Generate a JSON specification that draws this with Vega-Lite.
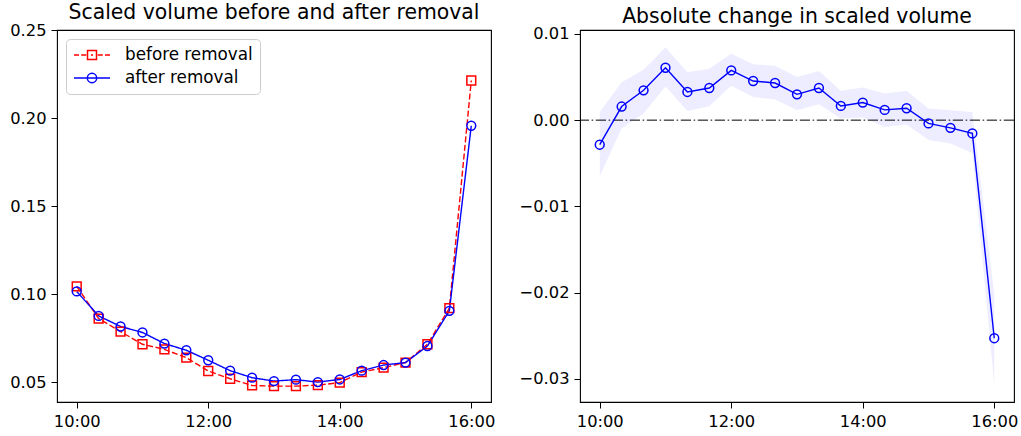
{
  "$schema": "https://vega.github.io/schema/vega-lite/v6.json",
  "config": {
    "font": "DejaVu Sans",
    "view": {"stroke": "black", "strokeWidth": 1.1},
    "axis": {"domain": false, "grid": false, "tickColor": "black", "tickSize": 6, "tickWidth": 1, "labelFontSize": 16.3, "labelColor": "black", "title": null, "labelPadding": 5},
    "title": {"fontSize": 20.4, "fontWeight": "normal", "offset": -1, "color": "black", "frame": "group", "baseline": "alphabetic"},
    "concat": {"spacing": 22}
  },
  "padding": {"left": 9, "top": 2, "right": 6, "bottom": 8},
  "datasets": {
    "volume": [
      {"time": "2020-01-01T10:00", "series": "before removal", "value": 0.1044},
      {"time": "2020-01-01T10:20", "series": "before removal", "value": 0.0861},
      {"time": "2020-01-01T10:40", "series": "before removal", "value": 0.0787},
      {"time": "2020-01-01T11:00", "series": "before removal", "value": 0.0715},
      {"time": "2020-01-01T11:20", "series": "before removal", "value": 0.0686},
      {"time": "2020-01-01T11:40", "series": "before removal", "value": 0.0639},
      {"time": "2020-01-01T12:00", "series": "before removal", "value": 0.0563},
      {"time": "2020-01-01T12:20", "series": "before removal", "value": 0.0519},
      {"time": "2020-01-01T12:40", "series": "before removal", "value": 0.0481},
      {"time": "2020-01-01T13:00", "series": "before removal", "value": 0.0477},
      {"time": "2020-01-01T13:20", "series": "before removal", "value": 0.0477},
      {"time": "2020-01-01T13:40", "series": "before removal", "value": 0.0483},
      {"time": "2020-01-01T14:00", "series": "before removal", "value": 0.0497},
      {"time": "2020-01-01T14:20", "series": "before removal", "value": 0.0557},
      {"time": "2020-01-01T14:40", "series": "before removal", "value": 0.0582},
      {"time": "2020-01-01T15:00", "series": "before removal", "value": 0.0611},
      {"time": "2020-01-01T15:20", "series": "before removal", "value": 0.0715},
      {"time": "2020-01-01T15:40", "series": "before removal", "value": 0.0920},
      {"time": "2020-01-01T16:00", "series": "before removal", "value": 0.2213},
      {"time": "2020-01-01T10:00", "series": "after removal", "value": 0.1015},
      {"time": "2020-01-01T10:20", "series": "after removal", "value": 0.0876},
      {"time": "2020-01-01T10:40", "series": "after removal", "value": 0.0816},
      {"time": "2020-01-01T11:00", "series": "after removal", "value": 0.0782},
      {"time": "2020-01-01T11:20", "series": "after removal", "value": 0.0719},
      {"time": "2020-01-01T11:40", "series": "after removal", "value": 0.0681},
      {"time": "2020-01-01T12:00", "series": "after removal", "value": 0.0624},
      {"time": "2020-01-01T12:20", "series": "after removal", "value": 0.0565},
      {"time": "2020-01-01T12:40", "series": "after removal", "value": 0.0525},
      {"time": "2020-01-01T13:00", "series": "after removal", "value": 0.0506},
      {"time": "2020-01-01T13:20", "series": "after removal", "value": 0.0514},
      {"time": "2020-01-01T13:40", "series": "after removal", "value": 0.0500},
      {"time": "2020-01-01T14:00", "series": "after removal", "value": 0.0515},
      {"time": "2020-01-01T14:20", "series": "after removal", "value": 0.0565},
      {"time": "2020-01-01T14:40", "series": "after removal", "value": 0.0597},
      {"time": "2020-01-01T15:00", "series": "after removal", "value": 0.0611},
      {"time": "2020-01-01T15:20", "series": "after removal", "value": 0.0705},
      {"time": "2020-01-01T15:40", "series": "after removal", "value": 0.0905},
      {"time": "2020-01-01T16:00", "series": "after removal", "value": 0.1956}
    ],
    "change": [
      {"time": "2020-01-01T10:00", "change": -0.00285, "lo": -0.0065, "hi": 0.00096},
      {"time": "2020-01-01T10:20", "change": 0.00158, "lo": -0.00096, "hi": 0.0044},
      {"time": "2020-01-01T10:40", "change": 0.00346, "lo": 0.00077, "hi": 0.00585},
      {"time": "2020-01-01T11:00", "change": 0.00608, "lo": 0.0039, "hi": 0.00846},
      {"time": "2020-01-01T11:20", "change": 0.00327, "lo": 0.00107, "hi": 0.00557},
      {"time": "2020-01-01T11:40", "change": 0.00373, "lo": 0.0016, "hi": 0.00596},
      {"time": "2020-01-01T12:00", "change": 0.00577, "lo": 0.004, "hi": 0.0077},
      {"time": "2020-01-01T12:20", "change": 0.00454, "lo": 0.0027, "hi": 0.0065},
      {"time": "2020-01-01T12:40", "change": 0.00431, "lo": 0.0024, "hi": 0.0063},
      {"time": "2020-01-01T13:00", "change": 0.0030, "lo": 0.00115, "hi": 0.005},
      {"time": "2020-01-01T13:20", "change": 0.00373, "lo": 0.00185, "hi": 0.0057},
      {"time": "2020-01-01T13:40", "change": 0.00165, "lo": 0.0002, "hi": 0.0034},
      {"time": "2020-01-01T14:00", "change": 0.00204, "lo": 0.0003, "hi": 0.0038},
      {"time": "2020-01-01T14:20", "change": 0.00119, "lo": -0.0008, "hi": 0.0031},
      {"time": "2020-01-01T14:40", "change": 0.00138, "lo": -0.0005, "hi": 0.0034},
      {"time": "2020-01-01T15:00", "change": -0.00038, "lo": -0.0023, "hi": 0.00135},
      {"time": "2020-01-01T15:20", "change": -0.00089, "lo": -0.0027, "hi": 0.00115},
      {"time": "2020-01-01T15:40", "change": -0.00154, "lo": -0.0038, "hi": 0.00096},
      {"time": "2020-01-01T16:00", "change": -0.0253, "lo": -0.0307, "hi": -0.0202}
    ]
  },
  "hconcat": [
    {
      "width": 434,
      "height": 372,
      "title": "Scaled volume before and after removal",
      "data": {"name": "volume"},
      "encoding": {
        "x": {
          "field": "time", "type": "temporal",
          "scale": {"domain": [{"year": 2020, "month": 1, "date": 1, "hours": 9, "minutes": 42}, {"year": 2020, "month": 1, "date": 1, "hours": 16, "minutes": 18}]},
          "axis": {"values": [{"year": 2020, "month": 1, "date": 1, "hours": 10}, {"year": 2020, "month": 1, "date": 1, "hours": 12}, {"year": 2020, "month": 1, "date": 1, "hours": 14}, {"year": 2020, "month": 1, "date": 1, "hours": 16}], "format": "%H:%M", "title": null}
        },
        "y": {
          "field": "value", "type": "quantitative",
          "scale": {"domain": [0.0387, 0.25], "nice": false, "zero": false},
          "axis": {"values": [0.05, 0.1, 0.15, 0.2, 0.25], "format": ".2f", "title": null}
        }
      },
      "resolve": {"scale": {"shape": "independent", "color": "independent"}},
      "layer": [
        {
          "mark": {"type": "line", "strokeWidth": 1.4},
          "encoding": {
            "color": {"field": "series", "type": "nominal", "scale": {"domain": ["before removal", "after removal"], "range": ["red", "blue"]}, "legend": null},
            "strokeDash": {"field": "series", "type": "nominal", "scale": {"domain": ["before removal", "after removal"], "range": [[6, 2.6], [1, 0]]}, "legend": null}
          }
        },
        {
          "mark": {"type": "point", "filled": false, "strokeWidth": 1.5, "size": 78, "opacity": 1},
          "encoding": {
            "color": {"field": "series", "type": "nominal", "scale": {"domain": ["before removal", "after removal"], "range": ["red", "blue"]}, "legend": null},
            "shape": {"field": "series", "type": "nominal", "scale": {"domain": ["before removal", "after removal"], "range": ["square", "circle"]}, "legend": null}
          }
        },
        {
          "transform": [{"filter": "false"}],
          "mark": {"type": "point", "filled": false, "strokeWidth": 1.5, "opacity": 1},
          "encoding": {
            "color": {
              "field": "series", "type": "nominal",
              "scale": {"domain": ["before removal", "after removal"], "range": ["red", "blue"]},
              "legend": {"orient": "top-left", "offset": 9, "title": null, "fillColor": "white", "strokeColor": "#cccccc", "cornerRadius": 4, "padding": 7, "labelFontSize": 16.8, "labelColor": "black", "labelOffset": 14, "symbolSize": 1296, "symbolStrokeWidth": 1.5, "symbolOpacity": 1, "clipHeight": 18, "rowPadding": 5}
            },
            "shape": {
              "field": "series", "type": "nominal",
              "scale": {"domain": ["before removal", "after removal"], "range": ["M-1,0H-0.72M-0.6,0H-0.32M-0.06,0H0.06M0.32,0H0.6M0.72,0H1M-0.25,-0.25H0.25V0.25H-0.25Z", "M-1,0H1M0.26,0A0.26,0.26 0 1,1 -0.26,0A0.26,0.26 0 1,1 0.26,0"]},
              "legend": {"orient": "top-left", "offset": 9, "title": null, "fillColor": "white", "strokeColor": "#cccccc", "cornerRadius": 4, "padding": 7, "labelFontSize": 16.8, "labelColor": "black", "labelOffset": 14, "symbolSize": 1296, "symbolStrokeWidth": 1.5, "symbolOpacity": 1, "clipHeight": 18, "rowPadding": 5}
            }
          }
        }
      ]
    },
    {
      "width": 434,
      "height": 372,
      "title": "Absolute change in scaled volume",
      "data": {"name": "change"},
      "encoding": {
        "x": {
          "field": "time", "type": "temporal",
          "scale": {"domain": [{"year": 2020, "month": 1, "date": 1, "hours": 9, "minutes": 42}, {"year": 2020, "month": 1, "date": 1, "hours": 16, "minutes": 18}]},
          "axis": {"values": [{"year": 2020, "month": 1, "date": 1, "hours": 10}, {"year": 2020, "month": 1, "date": 1, "hours": 12}, {"year": 2020, "month": 1, "date": 1, "hours": 14}, {"year": 2020, "month": 1, "date": 1, "hours": 16}], "format": "%H:%M", "title": null}
        }
      },
      "layer": [
        {
          "mark": {"type": "area", "color": "blue", "opacity": 0.07},
          "encoding": {
            "y": {"field": "lo", "type": "quantitative", "scale": {"domain": [-0.0327, 0.01046], "nice": false, "zero": false}, "axis": {"values": [-0.03, -0.02, -0.01, 0, 0.01], "format": ".2f", "title": null}},
            "y2": {"field": "hi"}
          }
        },
        {
          "data": {"values": [{"zero": 0}]},
          "mark": {"type": "rule", "color": "black", "strokeWidth": 1, "strokeDash": [10.2, 2.6, 1.6, 2.6]},
          "encoding": {"y": {"field": "zero", "type": "quantitative"}, "x": null}
        },
        {
          "mark": {"type": "line", "color": "blue", "strokeWidth": 1.4},
          "encoding": {"y": {"field": "change", "type": "quantitative"}}
        },
        {
          "mark": {"type": "point", "color": "blue", "filled": false, "size": 78, "strokeWidth": 1.5, "opacity": 1},
          "encoding": {"y": {"field": "change", "type": "quantitative"}}
        }
      ]
    }
  ]
}
